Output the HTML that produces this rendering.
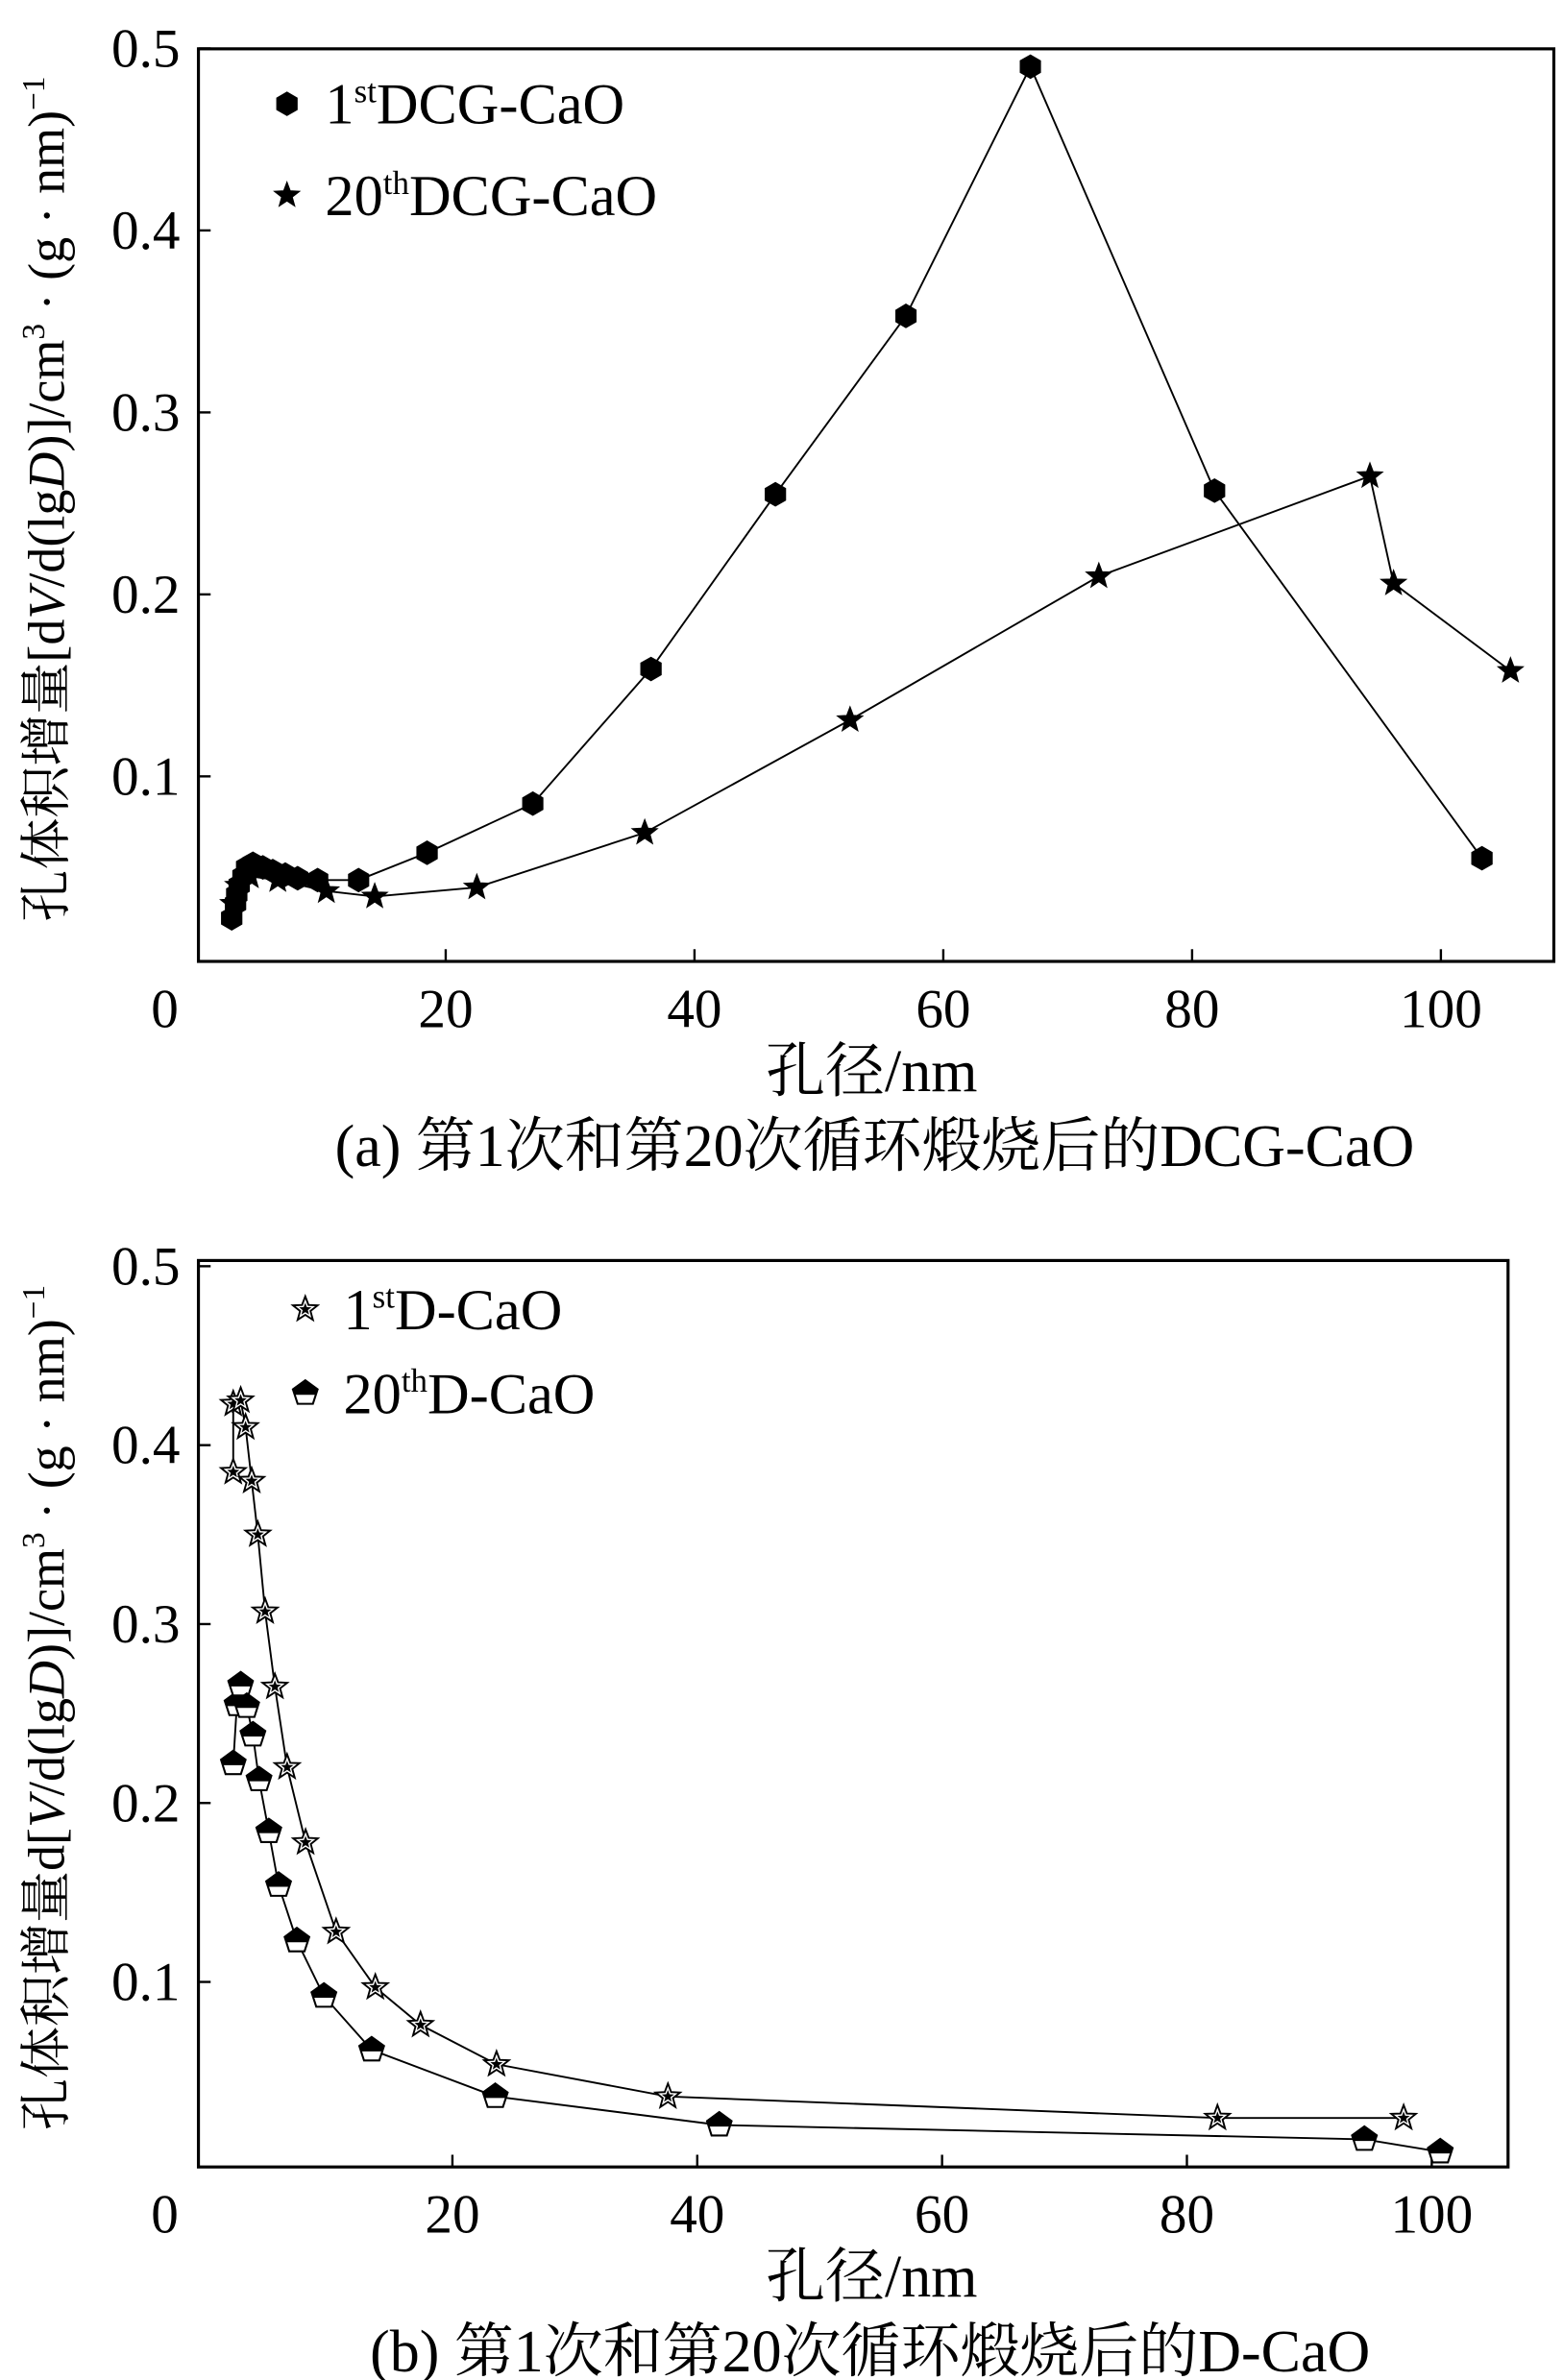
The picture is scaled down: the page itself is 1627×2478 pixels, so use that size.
<!DOCTYPE html>
<html><head><meta charset="utf-8">
<style>
html,body{margin:0;padding:0;background:#fff;}
svg{display:block;}
text{font-family:"Liberation Serif","Noto Serif CJK SC",serif;fill:#000;}
</style></head>
<body>
<svg id="root" width="1627" height="2478" viewBox="0 0 1024 1559.6" xmlns="http://www.w3.org/2000/svg"></svg>
<script>
// Panel (a) data
const aTicksX = [0,20,40,60,80,100];
const aTicksY = [0.1,0.2,0.3,0.4,0.5];
const a1X = [2.8,3.1,3.2,3.4,3.7,4.0,4.5,5.3,6.1,7.1,8.1,9.7,13.0,18.5,27.0,36.5,46.5,57.0,67.0,81.8,103.3];
const a1Y = [0.022,0.030,0.035,0.040,0.045,0.050,0.052,0.050,0.048,0.046,0.044,0.043,0.043,0.058,0.085,0.159,0.255,0.353,0.490,0.257,0.055];
const a20X = [2.9,3.3,4.3,6.5,10.4,14.3,22.5,36.0,52.5,72.5,94.3,96.2,105.6];
const a20Y = [0.030,0.040,0.045,0.043,0.037,0.034,0.039,0.069,0.131,0.210,0.265,0.206,0.158];
// Panel (b) data
const bTicksX = [0,20,40,60,80,100];
const bTicksY = [0.1,0.2,0.3,0.4,0.5];
const b1X = [2.1,2.1,2.7,3.1,3.6,4.1,4.7,5.5,6.5,8.0,10.5,13.7,17.4,23.6,37.6,82.5,97.7];
const b1Y = [0.385,0.423,0.425,0.410,0.380,0.350,0.307,0.265,0.220,0.178,0.128,0.097,0.076,0.054,0.036,0.024,0.024];
const b20X = [2.1,2.4,2.7,3.2,3.7,4.2,5.0,5.8,7.3,9.5,13.4,23.5,41.8,94.5,100.7];
const b20Y = [0.222,0.255,0.266,0.254,0.238,0.213,0.184,0.154,0.123,0.092,0.062,0.036,0.020,0.012,0.005];

const NS="http://www.w3.org/2000/svg";
const root=document.getElementById('root');
function mk(tag,attrs,parent){const e=document.createElementNS(NS,tag);for(const k in attrs)e.setAttribute(k,attrs[k]);(parent||root).appendChild(e);return e;}

function hexPts(cx,cy,r){let p=[];for(let i=0;i<6;i++){const a=Math.PI/6+i*Math.PI/3;p.push((cx+r*Math.cos(a)).toFixed(1)+','+(cy+r*Math.sin(a)).toFixed(1));}return p.join(' ');}
function starPts(cx,cy,r){let p=[];for(let i=0;i<10;i++){const rr=i%2?r*0.42:r;const a=-Math.PI/2+i*Math.PI/5;p.push((cx+rr*Math.cos(a)).toFixed(1)+','+(cy+rr*Math.sin(a)).toFixed(1));}return p.join(' ');}
function pentPts(cx,cy,r){let p=[];for(let i=0;i<5;i++){const a=-Math.PI/2+i*2*Math.PI/5;p.push((cx+r*Math.cos(a)).toFixed(1)+','+(cy+r*Math.sin(a)).toFixed(1));}return p.join(' ');}

function marker(type,cx,cy,g){
  if(type==='hex'){const m=mk('polygon',{points:hexPts(cx,cy,7.5),fill:'#000',stroke:'#000','stroke-width':1},g);
    }
  else if(type==='star'){const m=mk('polygon',{points:starPts(cx,cy,8.5),fill:'#000',stroke:'#000','stroke-width':0.8},g);
    }
  else if(type==='ostar'){const m=mk('polygon',{points:starPts(cx,cy,8.5),fill:'#fff',stroke:'#000','stroke-width':1.2},g);
    
    const h=mk('polygon',{points:starPts(cx,cy,8.5),fill:'#000',stroke:'none'},g);
    h.setAttribute('transform','translate('+cx+','+cy+') scale(0.5) translate('+(-cx)+','+(-cy)+')');
    }
  else if(type==='pent'){const m=mk('polygon',{points:pentPts(cx,cy,8.5),fill:'#fff',stroke:'#000','stroke-width':1.3},g);
    
    const t=mk('path',{d:'M'+(cx-8.1)+','+(cy-2.6)+' L'+cx+','+(cy-8.5)+' L'+(cx+8.1)+','+(cy-2.6)+' L'+(cx+7)+','+(cy+1)+' L'+(cx-7)+','+(cy+1)+'Z',fill:'#000'},g);
    }
}

function chart(cfg){
  const g=mk('g',{});
  
  
  const sx=v=>cfg.x0+v*cfg.kx, sy=v=>cfg.y0-v*cfg.ky;
  const frame=mk('rect',{x:cfg.L,y:cfg.T,width:cfg.R-cfg.L,height:cfg.B-cfg.T,fill:'none',stroke:'#000','stroke-width':2},g);
  
  cfg.tx.forEach(v=>{
    const x=sx(v);
    if(v>0){const t=mk('line',{x1:x,x2:x,y1:cfg.B,y2:cfg.B-8,stroke:'#000','stroke-width':1.5},g);
      }
    const l=mk('text',{x:v===0?108:x,y:cfg.B+43,'font-size':36,'text-anchor':'middle'},g);l.textContent=v;
    
  });
  cfg.ty.forEach(v=>{
    const y=sy(v);
    const t=mk('line',{x1:cfg.L,x2:cfg.L+8,y1:y,y2:y,stroke:'#000','stroke-width':1.5},g);
    
    const l=mk('text',{x:cfg.L-12,y:y+12,'font-size':36,'text-anchor':'end'},g);l.textContent=v.toFixed(1);
    
  });
  const yt=mk('text',{x:0,y:0,'font-size':34,'text-anchor':'middle',transform:'translate(42,'+((cfg.T+cfg.B)/2-4)+') rotate(-90)'},g);
  
  yt.innerHTML=cfg.ytitle;
  const xt=mk('text',{x:571,y:cfg.B+85,'font-size':39,'text-anchor':'middle'},g);
  xt.textContent='孔径/nm';
  const cap=mk('text',{x:cfg.capX,y:cfg.B+134,'font-size':39,'text-anchor':'middle'},g);
  cap.textContent=cfg.caption;
  cfg.series.forEach(s=>{
    const sg=mk('g',{},g);
    
    const pts=s.x.map((v,i)=>sx(v).toFixed(1)+','+sy(s.y[i]).toFixed(1)).join(' ');
    const pl=mk('polyline',{points:pts,fill:'none',stroke:'#000','stroke-width':1.2},sg);
    
    s.x.forEach((v,i)=>marker(s.m,sx(v),sy(s.y[i]),sg));
  });
  cfg.legend.forEach((e,i)=>{
    const lg=mk('g',{},g);
    
    marker(e.m,cfg.lx,cfg.ly+i*cfg.ld,lg);
    const t=mk('text',{x:cfg.lx+25,y:cfg.ly+i*cfg.ld+13,'font-size':38},lg);
    t.innerHTML=e.t;
  });
}

const ytA='孔体积增量[d<tspan font-style="italic">V</tspan>/d(lg<tspan font-style="italic">D</tspan>)]/cm<tspan font-size="21" dy="-13">3</tspan><tspan dy="13"> · (g · nm)</tspan><tspan font-size="21" dy="-13">−1</tspan>';
const ytB='孔体积增量d[<tspan font-style="italic">V</tspan>/d(lg<tspan font-style="italic">D</tspan>)]/cm<tspan font-size="21" dy="-13">3</tspan><tspan dy="13"> · (g · nm)</tspan><tspan font-size="21" dy="-13">−1</tspan>';

chart({name:'chart-a',L:130,R:1018,T:32,B:630,x0:129,kx:8.15,y0:628,ky:1192.5,tx:aTicksX,ty:aTicksY,
  ytitle:ytA,caption:'(a) 第1次和第20次循环煅烧后的DCG-CaO',capX:573,
  series:[{name:'series-1st-dcg-cao',x:a1X,y:a1Y,m:'hex'},{name:'series-20th-dcg-cao',x:a20X,y:a20Y,m:'star'}],
  legend:[{m:'hex',t:'1<tspan font-size="22" dy="-14">st</tspan><tspan dy="14">DCG-CaO</tspan>'},{m:'star',t:'20<tspan font-size="22" dy="-14">th</tspan><tspan dy="14">DCG-CaO</tspan>'}],
  lx:188,ly:68,ld:60});
chart({name:'chart-b',L:130,R:988,T:826,B:1420,x0:136,kx:8.02,y0:1416,ky:1172.5,tx:bTicksX,ty:bTicksY,
  ytitle:ytB,caption:'(b) 第1次和第20次循环煅烧后的D-CaO',capX:570,
  series:[{name:'series-1st-d-cao',x:b1X,y:b1Y,m:'ostar'},{name:'series-20th-d-cao',x:b20X,y:b20Y,m:'pent'}],
  legend:[{m:'ostar',t:'1<tspan font-size="22" dy="-14">st</tspan><tspan dy="14">D-CaO</tspan>'},{m:'pent',t:'20<tspan font-size="22" dy="-14">th</tspan><tspan dy="14">D-CaO</tspan>'}],
  lx:200,ly:858,ld:55});
</script>
</body></html>
